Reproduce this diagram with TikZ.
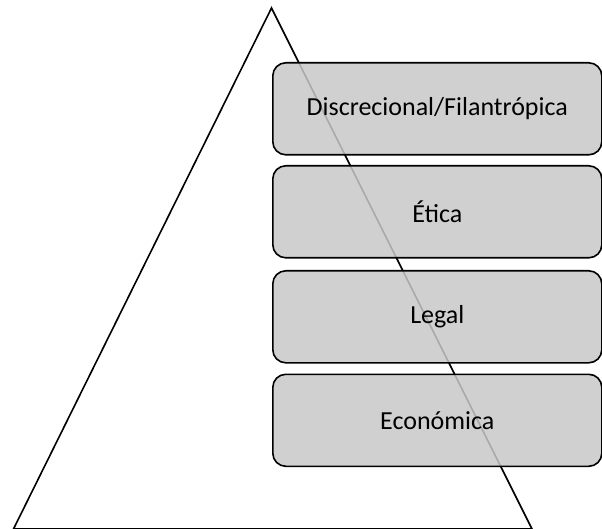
\documentclass[tikz,border=0pt]{standalone}
\usepackage{fontspec}
\setmainfont{Carlito}
\begin{document}
\begin{tikzpicture}[x=1pt,y=-1pt,
  level/.style={draw=black, line width=1.6pt, fill={rgb,255:red,200;green,200;blue,200}, fill opacity=0.85, text opacity=1,
    rounded corners=13pt, minimum width=329pt, minimum height=92pt, inner sep=0pt,
    font=\fontsize{26}{30}\selectfont, anchor=north west}]
\useasboundingbox (0,0) rectangle (602,529);
\coordinate (apex) at (271.5,8);
\coordinate (bl) at (13.5,529);
\coordinate (br) at (532,529);
\draw[line width=1.6pt, line join=miter] (bl) -- (apex) -- (br) -- cycle;
\node[level] (d) at (272,62) {Discrecional/Filantrópica};
\node[level] (e) at (272,165) {Ética};
\node[level] (l) at (272,270) {Legal};
\node[level] (c) at (272,373.5) {Económica};
\end{tikzpicture}
\end{document}
